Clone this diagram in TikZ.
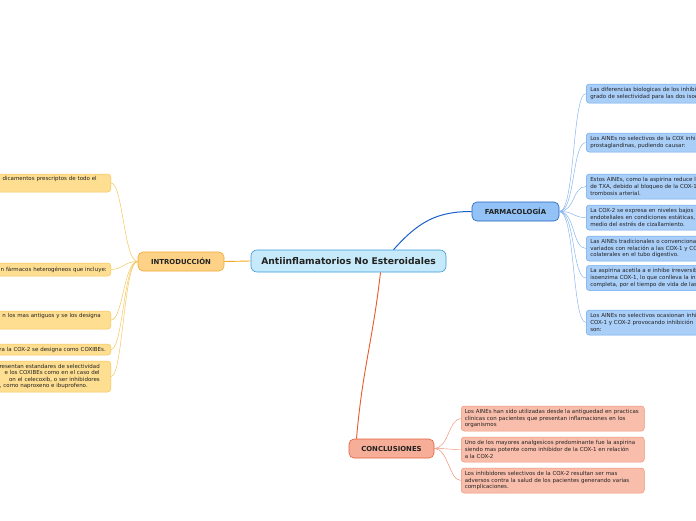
\documentclass[tikz,border=0pt]{standalone}
\usepackage{fontspec}
\setmainfont{DejaVu Sans}
\begin{document}
\definecolor{cfill}{HTML}{C6EAF9}
\definecolor{cdraw}{HTML}{3A9BDC}
\definecolor{ffill}{HTML}{92C2F6}
\definecolor{fdraw}{HTML}{2262BE}
\definecolor{rfill}{HTML}{A9CEF8}
\definecolor{rdraw}{HTML}{6DA8EE}
\definecolor{ifill}{HTML}{FDD286}
\definecolor{idraw}{HTML}{F2A934}
\definecolor{lfill}{HTML}{FEDE91}
\definecolor{ldraw}{HTML}{F7C65A}
\definecolor{kfill}{HTML}{F7AE98}
\definecolor{kdraw}{HTML}{E4603C}
\definecolor{bfill}{HTML}{F9BEAB}
\definecolor{bdraw}{HTML}{EF9579}
\definecolor{flink}{HTML}{1B5FC9}
\definecolor{ilink}{HTML}{F3A91F}
\definecolor{klink}{HTML}{E85A2B}
\definecolor{rlink}{HTML}{7FB2EE}
\definecolor{llink}{HTML}{F6C24E}
\definecolor{blink}{HTML}{EF8E72}
\definecolor{txt}{HTML}{222222}
\begin{tikzpicture}[x=1pt,y=-1pt,
  leaffont/.style={font=\fontsize{5.5}{6.6}\selectfont, text=txt},
  mainbox/.style={rounded corners=3pt, line width=0.6pt, font=\bfseries\fontsize{6.9}{8}\selectfont, text=txt, minimum height=19pt, inner sep=0pt},
  rleaf/.style={leaffont, draw=rdraw, fill=rfill, rounded corners=3pt, line width=0.5pt, anchor=west, text width=190pt, align=left, inner xsep=4pt, inner ysep=0pt},
  lleaf/.style={leaffont, draw=ldraw, fill=lfill, rounded corners=3pt, line width=0.5pt, anchor=east, text width=150pt, align=right, inner ysep=0pt},
  bleaf/.style={leaffont, draw=bdraw, fill=bfill, rounded corners=3pt, line width=0.5pt, anchor=west, minimum width=183pt, text width=176pt, align=left, inner xsep=3.5pt, inner ysep=0pt},
  rl/.style={draw=rlink, line width=0.45pt},
  ll/.style={draw=llink, line width=0.45pt},
  bl/.style={draw=blink, line width=0.45pt}]
\useasboundingbox (0,0) rectangle (696,520);
\clip (0,0) rectangle (696,520);
\fill[white] (0,0) rectangle (696,520);

% main nodes
\node[mainbox, draw=cdraw, fill=cfill, minimum width=195pt, minimum height=22pt, rounded corners=6pt, font=\bfseries\fontsize{9.2}{11}\selectfont] (c) at (348.5,261) {Antiinflamatorios No Esteroidales};
\node[mainbox, draw=fdraw, fill=ffill, minimum width=87pt, rounded corners=5pt] (f) at (515.5,211.5) {FARMACOLOGÍA};
\node[mainbox, draw=idraw, fill=ifill, minimum width=86pt, rounded corners=5pt] (i) at (181,261.5) {INTRODUCCIÓN};
\node[mainbox, draw=kdraw, fill=kfill, minimum width=85pt, rounded corners=5pt] (k) at (391.5,448.5) {CONCLUSIONES};

% right leaves
\node[rleaf, minimum height=19pt] (r1) at (586,93.5) {Las diferencias biologicas de los inhibi\\grado de selectividad para las dos isoe};
\node[rleaf, minimum height=19pt] (r2) at (586,142.5) {Los AINEs no selectivos de la COX inhi\\prostaglandinas, pudiendo causar:};
\node[rleaf, minimum height=25pt] (r3) at (586,186.5) {Estos AINEs, como la aspirina reduce l\\de TXA, debido al bloqueo de la COX-1\\trombosis arterial.};
\node[rleaf, minimum height=25pt] (r4) at (586,217.5) {La COX-2 se expresa en niveles bajos\\endoteliales en condiciones estáticas,\\medio del estrés de cizallamiento.};
\node[rleaf, minimum height=25pt] (r5) at (586,248.5) {Las AINEs tradicionales o convenciona\\variados con relación a las COX-1 y CO\\colaterales en el tubo digestivo.};
\node[rleaf, minimum height=25pt] (r6) at (586,278) {La aspirina acetila a e inhibe irreversib\\isoenzima COX-1, lo que conlleva la in\\completa, por el tiempo de vida de las};
\node[rleaf, minimum height=25pt] (r7) at (586,322.5) {Los AINEs no selectivos ocasionan inhi\\COX-1 y COX-2 provocando inhibición\\son:};

% left leaves
\node[lleaf, minimum height=18pt, inner xsep=14pt] (l1) at (111,183) {dicamentos prescriptos de todo el\\\strut};
\node[lleaf, minimum height=13pt, inner xsep=4pt] (l2) at (111,269.5) {n fármacos heterogéneos que incluye:};
\node[lleaf, minimum height=18pt, inner xsep=10pt] (l3) at (111,320) {n los mas antiguos y se los designa\\\strut};
\node[lleaf, minimum height=11pt, inner xsep=5pt] (l4) at (111,349.5) {ra la COX-2 se designa como COXIBEs.};
\node[lleaf, minimum height=31pt, inner xsep=11pt] (l5) at (111,376.5) {resentan estandares de selectividad\hspace*{2pt}\\e los COXIBEs como en el caso del\hspace*{5pt}\\on el celecoxib, o ser inhibidores\\, como naproxeno e ibuprofeno.\hspace*{12pt}};

% bottom leaves
\node[bleaf, minimum height=25pt] (b1) at (461,418.5) {Los AINEs han sido utilizadas desde la antiguedad en practicas\\clinicas con pacientes que presentan inflamaciones en los\\organismos};
\node[bleaf, minimum height=25pt] (b2) at (461,449.5) {Uno de los mayores analgesicos predominante fue la aspirina\\siendo mas potente como inhibidor de la COX-1 en relación\\a la COX-2};
\node[bleaf, minimum height=25pt] (b3) at (461,480.5) {Los inhibidores selectivos de la COX-2 resultan ser mas\\adversos contra la salud de los pacientes generando varias\\complicaciones.};

% main connectors
\draw[flink, line width=1pt] ([xshift=45pt]c.north) .. controls +(25,-28) and +(-35,0) .. (f.west);
\draw[ilink, line width=0.9pt] (c.west) -- (i.east);
\draw[klink, line width=0.9pt] ([xshift=32pt]c.south) .. controls +(-8,70) and +(6,-70) .. ([xshift=-35pt]k.north);

% leaf connectors
\foreach \n in {r1,r2,r3,r4,r5,r6,r7}
  \draw[rl] (f.east) .. controls +(16,0) and +(-14,0) .. (\n.west);
\foreach \n in {l1,l2,l3,l4,l5}
  \draw[ll] (i.west) .. controls +(-14,0) and +(12,0) .. (\n.east);
\foreach \n in {b1,b2,b3}
  \draw[bl] (k.east) .. controls +(14,0) and +(-12,0) .. (\n.west);
\end{tikzpicture}
\end{document}
